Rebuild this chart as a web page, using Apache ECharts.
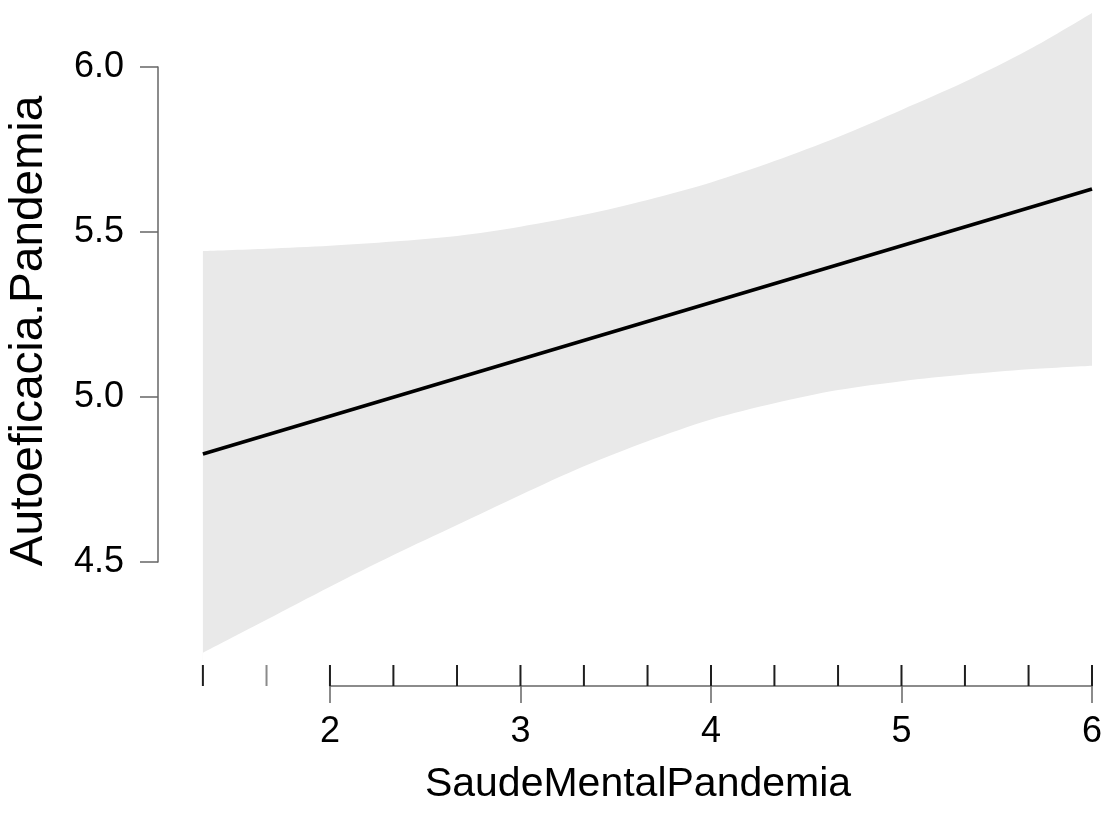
<!DOCTYPE html>
<html>
<head>
<meta charset="utf-8">
<script src="https://cdn.jsdelivr.net/npm/echarts@6/dist/echarts.min.js"></script>
<style>
  html, body { margin: 0; padding: 0; background: #fff; }
  #chart { width: 1109px; height: 821px; }
</style>
</head>
<body>
<div id="chart"></div>
<script>
// Predictor values (observed levels, also shown as rug ticks)
const xValues = [1.333, 1.667, 2, 2.333, 2.667, 3, 3.333, 3.667, 4, 4.333, 4.667, 5, 5.333, 5.667, 6];
// 95% confidence band around the fitted regression line
const upperCI = [5.442, 5.449, 5.458, 5.471, 5.488, 5.516, 5.552, 5.597, 5.650, 5.715, 5.788, 5.870, 5.955, 6.052, 6.164];
const lowerCI = [4.225, 4.325, 4.425, 4.521, 4.612, 4.703, 4.790, 4.866, 4.932, 4.981, 5.021, 5.048, 5.068, 5.084, 5.095];
// Fitted line end points
const fitX = [1.333, 6];
const fitY = [4.827, 5.630];
// Axis ticks
const xTicks = [2, 3, 4, 5, 6];
const yTicks = [4.5, 5.0, 5.5, 6.0];
const xTitle = 'SaudeMentalPandemia';
const yTitle = 'Autoeficacia.Pandemia';

const FONT = '"Liberation Sans", Arial, sans-serif';
const AXIS_COLOR = '#666';
const BAND_COLOR = '#e9e9e9';

const chart = echarts.init(document.getElementById('chart'), null, { renderer: 'canvas' });

const upperData = xValues.map((x, i) => [x, upperCI[i]]);
const lowerData = xValues.map((x, i) => [x, lowerCI[i]]);
const fitData = fitX.map((x, i) => [x, fitY[i]]);

const option = {
  backgroundColor: '#fff',
  animation: false,
  grid: [
    // plotting area for band, fit line and rug
    { left: 158.5, right: 17, top: 1, bottom: 160 },
    // y axis display (4.5 .. 6.0 only)
    { left: 158, right: 17, top: 67, bottom: 259 },
    // x axis display (2 .. 6 only)
    { left: 330, right: 17, top: 600, bottom: 135 }
  ],
  xAxis: [
    { gridIndex: 0, type: 'value', min: 1.1, max: 6, show: false },
    { gridIndex: 1, type: 'value', min: 0, max: 1, show: false },
    {
      gridIndex: 2, type: 'value', min: 2, max: 6, interval: 1,
      axisLine: { show: true, lineStyle: { color: AXIS_COLOR, width: 1.5 } },
      axisTick: { show: true, length: 17, inside: false, lineStyle: { color: AXIS_COLOR, width: 1.5 } },
      splitLine: { show: false },
      axisLabel: {
        show: true, margin: 28, color: '#000',
        fontFamily: FONT, fontSize: 36,
        customValues: xTicks,
        formatter: v => String(v)
      }
    }
  ],
  yAxis: [
    { gridIndex: 0, type: 'value', min: 4.2, max: 6.2, show: false },
    {
      gridIndex: 1, type: 'value', min: 4.5, max: 6.0, interval: 0.5,
      axisLine: { show: true, lineStyle: { color: AXIS_COLOR, width: 1.5 } },
      axisTick: { show: true, length: 18, lineStyle: { color: AXIS_COLOR, width: 1.5 } },
      splitLine: { show: false },
      axisLabel: {
        show: true, margin: 34, color: '#000',
        fontFamily: FONT, fontSize: 36,
        customValues: yTicks,
        formatter: v => v.toFixed(1)
      }
    },
    { gridIndex: 2, type: 'value', min: 0, max: 1, show: false }
  ],
  series: [
    {
      // grey fill from the upper bound down to the bottom of the plot
      name: 'upper',
      type: 'line',
      xAxisIndex: 0, yAxisIndex: 0,
      data: upperData,
      symbol: 'none',
      smooth: 0.3,
      lineStyle: { width: 0, opacity: 0 },
      areaStyle: { color: BAND_COLOR, opacity: 1, origin: 'start' },
      z: 1,
      silent: true
    },
    {
      // white fill below the lower bound, leaving the band visible
      name: 'lower',
      type: 'line',
      xAxisIndex: 0, yAxisIndex: 0,
      data: lowerData,
      symbol: 'none',
      smooth: 0.3,
      lineStyle: { width: 0, opacity: 0 },
      areaStyle: { color: '#fff', opacity: 1, origin: 'start' },
      z: 2,
      silent: true
    },
    {
      name: 'fit',
      type: 'line',
      xAxisIndex: 0, yAxisIndex: 0,
      data: fitData,
      symbol: 'none',
      lineStyle: { color: '#000', width: 3.6 },
      z: 5,
      silent: true
    },
    {
      name: 'rug',
      type: 'custom',
      xAxisIndex: 0, yAxisIndex: 0,
      data: xValues.map(x => [x, 4.2]),
      silent: true,
      z: 6,
      renderItem: function (params, api) {
        const p = api.coord([api.value(0), api.value(1)]);
        const faint = params.dataIndex === 1;
        return {
          type: 'line',
          shape: { x1: p[0], y1: p[1] + 4, x2: p[0], y2: p[1] + 25 },
          style: { stroke: faint ? '#8a8a8a' : '#1e1e1e', lineWidth: 2 }
        };
      }
    }
  ],
  graphic: [
    {
      type: 'text',
      x: 638, y: 785,
      style: {
        text: xTitle, fontFamily: FONT, fontSize: 41, fill: '#000',
        align: 'center', verticalAlign: 'middle'
      }
    },
    {
      type: 'text',
      x: 29, y: 331,
      rotation: Math.PI / 2,
      style: {
        text: yTitle, fontFamily: FONT, fontSize: 46, fill: '#000',
        align: 'center', verticalAlign: 'middle'
      }
    }
  ]
};

chart.setOption(option);
</script>
</body>
</html>
